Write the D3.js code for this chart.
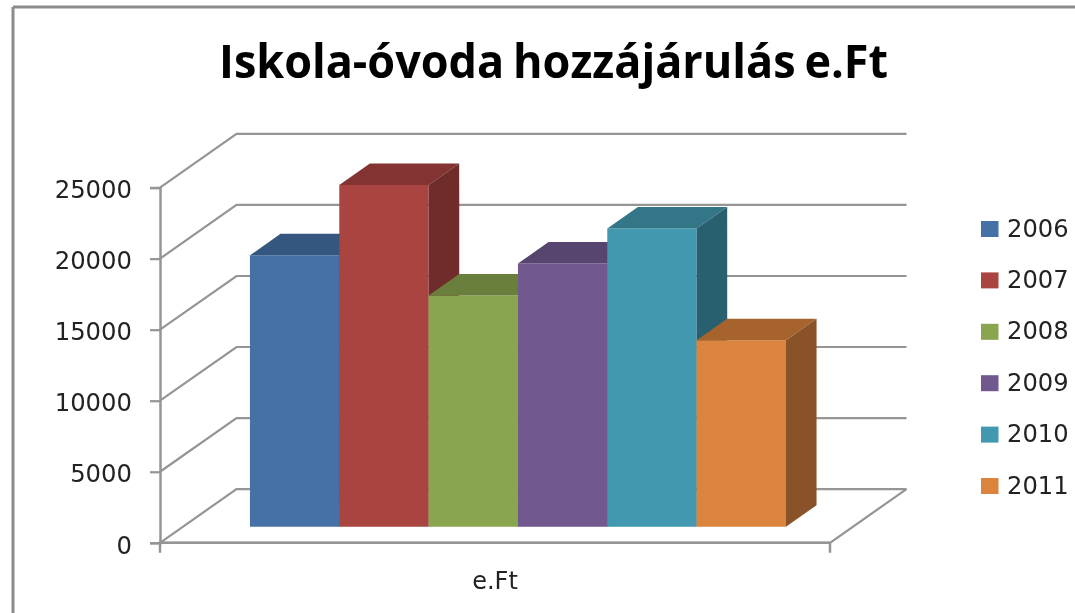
<!DOCTYPE html>
<html>
<head>
<meta charset="utf-8">
<script src="https://cdn.jsdelivr.net/npm/d3@7"></script>
<style>
html, body { margin: 0; padding: 0; background: #fff; overflow: hidden; }
svg { filter: blur(0.5px); }
text { font-family: "DejaVu Sans", sans-serif; fill: #222; }
</style>
</head>
<body>
<script>
const WIDTH = 1075;
const HEIGHT = 613;

var titleText = 'Iskola-óvoda hozzájárulás e.Ft';
var categoryLabels = ['e.Ft'];
var years = ['2006', '2007', '2008', '2009', '2010', '2011'];
var values = [19100, 24050, 16270, 18520, 20990, 13120];
var yTicks = [0, 5000, 10000, 15000, 20000, 25000];

var frontColors = ['#4571a6', '#a94441', '#89a54e', '#71588f', '#4198af', '#db843d'];
var topColors = ['#34567f', '#833432', '#6a7f3c', '#57446f', '#327688', '#a6642c'];
var sideColors = ['#2b4668', '#6f2c2a', '#566732', '#47385a', '#296070', '#8a5228'];

var svg = d3.select('body').append('svg')
    .attr('width', WIDTH)
    .attr('height', HEIGHT);

// chart frame, only top and left edges are in the picture
var frame = svg.append('g')
    .attr('fill', 'none')
    .attr('stroke', '#8c8c8c')
    .attr('stroke-width', 3);
frame.append('line').attr('x1', 13).attr('y1', 7).attr('x2', WIDTH + 5).attr('y2', 7);
frame.append('line').attr('x1', 13).attr('y1', 7).attr('x2', 13).attr('y2', HEIGHT + 5);

svg.append('text')
    .attr('x', 219)
    .attr('y', 78)
    .attr('font-size', 47)
    .attr('textLength', 669)
    .attr('lengthAdjust', 'spacingAndGlyphs')
    .style('font-family', '"Open Sans", sans-serif')
    .style('font-weight', 700)
    .style('word-spacing', '-3px')
    .style('fill', '#000')
    .text(titleText);

var yScale = d3.scaleLinear().domain([0, 25000]).range([542.8, 187.6]);
var xScale = d3.scaleBand().domain(years).range([160, 830]).paddingInner(0).paddingOuter(0.75);
var catScale = d3.scaleBand().domain(categoryLabels).range([160, 830]);

// oblique depth, depth 0 is the front of the floor and 1 the back wall
const DEPTH_X = 76.5;
const DEPTH_Y = 53.7;
var px = function (x, depth) { return x + depth * DEPTH_X; };
var py = function (v, depth) { return yScale(v) - depth * DEPTH_Y; };
var pts = function (list) {
    return list.map(function (p) { return px(p[0], p[1]) + ',' + py(p[2], p[1]); }).join(' ');
};

var grid = svg.append('g')
    .attr('fill', 'none')
    .attr('stroke', '#959595')
    .attr('stroke-width', 2.2);

grid.selectAll('polyline')
    .data(yTicks)
    .enter()
    .append('polyline')
    .attr('points', function (d) {
        return pts([[160, 0, d], [160, 1, d], [830, 1, d]]);
    });

// floor
grid.append('polyline').attr('points', pts([[160, 0, 0], [830, 0, 0], [830, 1, 0]]));

// bars sit between depth 0.3 and 0.7
const Z0 = 0.3;
const Z1 = 0.7;
var bars = svg.append('g')
    .selectAll('g')
    .data(years)
    .enter()
    .append('g');

bars.append('polygon')
    .attr('fill', function (d, i) { return frontColors[i]; })
    .attr('points', function (d, i) {
        var a = xScale(d), b = a + xScale.bandwidth();
        return pts([[a, Z0, 0], [b, Z0, 0], [b, Z0, values[i]], [a, Z0, values[i]]]);
    });
bars.append('polygon')
    .attr('fill', function (d, i) { return topColors[i]; })
    .attr('points', function (d, i) {
        var a = xScale(d), b = a + xScale.bandwidth();
        return pts([[a, Z0, values[i]], [b, Z0, values[i]], [b, Z1, values[i]], [a, Z1, values[i]]]);
    });
bars.append('polygon')
    .attr('fill', function (d, i) { return sideColors[i]; })
    .attr('points', function (d, i) {
        var b = xScale(d) + xScale.bandwidth();
        return pts([[b, Z0, 0], [b, Z1, 0], [b, Z1, values[i]], [b, Z0, values[i]]]);
    });

var yAxis = d3.axisLeft(yScale).tickValues(yTicks).tickFormat(d3.format('d')).tickSize(10).tickPadding(18);
var yAxisG = svg.append('g').attr('transform', 'translate(160,0)').call(yAxis);
yAxisG.selectAll('text').attr('font-size', 24.3).attr('dy', '0.42em');

var xAxis = d3.axisBottom(catScale).tickSize(0).tickPadding(29);
var xAxisG = svg.append('g').attr('transform', 'translate(0,542.8)').call(xAxis);
xAxisG.selectAll('text').attr('font-size', 24);

svg.selectAll('.domain').attr('stroke', '#959595').attr('stroke-width', 2.5);
yAxisG.selectAll('.tick line').attr('stroke', '#959595').attr('stroke-width', 2.2);
xAxisG.select('.domain').attr('d', 'M160,10V0H830V10');

var legend = svg.append('g')
    .selectAll('g')
    .data(years)
    .enter()
    .append('g')
    .attr('transform', function (d, i) { return 'translate(981,' + (221 + i * 51.4) + ')'; });
legend.append('rect')
    .attr('width', 17.5)
    .attr('height', 16)
    .attr('fill', function (d, i) { return frontColors[i]; });
legend.append('text')
    .attr('x', 26)
    .attr('y', 15.5)
    .attr('font-size', 24.2)
    .text(function (d) { return d; });
</script>
</body>
</html>
